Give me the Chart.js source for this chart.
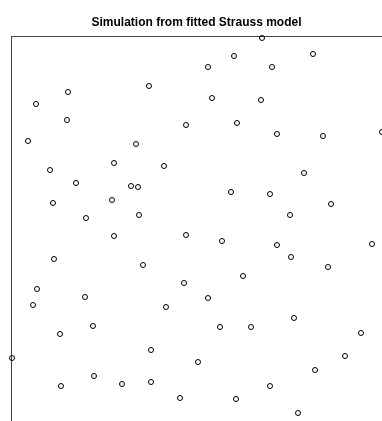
<!DOCTYPE html>
<html>
<head>
<meta charset="utf-8">
<script src="https://cdn.jsdelivr.net/npm/chart.js@4/dist/chart.umd.min.js"></script>
<style>
  html, body { margin: 0; padding: 0; background: #fff; }
  #plot { display: block; }
</style>
</head>
<body>
<canvas id="plot" width="382" height="421"></canvas>
<script>
// point locations in the observation window (x to the right, y measured down from the top edge)
const puntosX = [251, 223, 302, 197, 261, 138, 57, 25, 201, 250, 56, 175, 226, 266, 312, 371,
  17, 125, 103, 153, 39, 293, 65, 120, 127, 220, 259, 42, 101, 320, 75, 128, 279,
  103, 175, 211, 266, 361, 280, 43, 132, 317,
  232, 26, 173, 74, 22, 197, 155, 283, 82, 209, 240, 49, 350, 140, 1, 334, 187, 304,
  50, 83, 111, 140, 169, 259, 225, 287];
const puntosY = [2, 20, 18, 31, 31, 50, 56, 68, 62, 64, 84, 89, 87, 98, 100, 96,
  105, 108, 127, 130, 134, 137, 147, 150, 151, 156, 158, 167, 164, 168, 182, 179, 179,
  200, 199, 205, 209, 208, 221, 223, 229, 231,
  240, 253, 247, 261, 269, 262, 271, 282, 290, 291, 291, 298, 297, 314, 322, 320, 326, 334,
  350, 340, 348, 346, 362, 350, 363, 377];
const anchoVentana = 371;
const altoVentana = 385;
const titulo = "Simulation from fitted Strauss model";

const puntos = puntosX.map((x, i) => ({ x: x, y: puntosY[i] }));

const ctx = document.getElementById('plot').getContext('2d');
const grafica = new Chart(ctx, {
  type: 'scatter',
  data: {
    datasets: [{
      data: puntos,
      pointStyle: 'circle',
      pointRadius: 2.5,
      pointBorderWidth: 1,
      pointBorderColor: '#000',
      pointBackgroundColor: 'rgba(0,0,0,0)',
      clip: false
    }]
  },
  options: {
    responsive: false,
    animation: false,
    layout: { autoPadding: false, padding: { left: 11, top: 0, right: 0, bottom: 0 } },
    plugins: {
      legend: { display: false },
      tooltip: { enabled: false },
      title: {
        display: true,
        text: titulo,
        color: '#000',
        font: { family: 'Liberation Sans, Arial, sans-serif', size: 12, weight: 'bold' },
        padding: { top: 15.5, bottom: 6.1 }
      }
    },
    scales: {
      x: {
        type: 'linear',
        position: 'top',
        min: 0,
        max: anchoVentana,
        grid: { display: false, drawTicks: false },
        ticks: { display: false },
        border: { display: true, color: '#444', width: 1 }
      },
      y: {
        type: 'linear',
        position: 'left',
        reverse: true,
        min: 0,
        max: altoVentana,
        grid: { display: false, drawTicks: false },
        ticks: { display: false },
        border: { display: true, color: '#444', width: 1 }
      }
    }
  }
});
</script>
</body>
</html>
